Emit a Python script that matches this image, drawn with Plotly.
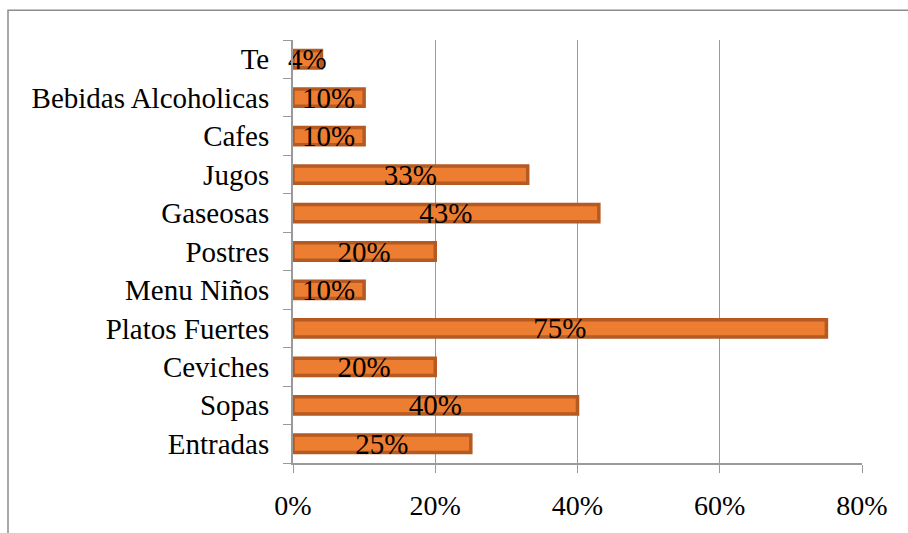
import plotly.graph_objects as go

categories = ["Entradas", "Sopas", "Ceviches", "Platos Fuertes", "Menu Niños",
              "Postres", "Gaseosas", "Jugos", "Cafes", "Bebidas Alcoholicas", "Te"]
values = [25, 40, 20, 75, 10, 20, 43, 33, 10, 10, 4]
x_ticks = [0, 20, 40, 60, 80]
x_tick_labels = ["0%", "20%", "40%", "60%", "80%"]

FONT = "Times New Roman, serif"
W, H = 908, 533
L, R, T, B = 293, 46, 40, 67
pw, ph = W - L - R, H - T - B

fig = go.Figure(go.Bar(
    y=categories,
    x=values,
    orientation="h",
    marker=dict(color="#ED7D31", line=dict(color="#B45A22", width=3.5)),
    text=[f"{v}%" for v in values],
    textposition="inside",
    insidetextanchor="middle",
    constraintext="none",
    textfont=dict(family=FONT, size=29, color="black"),
    cliponaxis=False,
    width=0.45,
))

# outer chart frame
def px_to_paper_x(px):
    return (px - L) / pw

def px_to_paper_y(py):
    return (H - B - py) / ph

fig.add_shape(type="rect", xref="paper", yref="paper",
              x0=px_to_paper_x(8), x1=px_to_paper_x(920),
              y0=px_to_paper_y(545), y1=px_to_paper_y(10),
              line=dict(color="#8c8c8c", width=1.5), fillcolor="rgba(0,0,0,0)",
              layer="below")

fig.update_layout(
    width=W, height=H,
    margin=dict(l=L, r=R, t=T, b=B),
    plot_bgcolor="white", paper_bgcolor="white",
    showlegend=False,
    font=dict(family=FONT, size=29, color="black"),
    xaxis=dict(
        range=[0, 80], tickvals=x_ticks, ticktext=x_tick_labels,
        showgrid=True, gridcolor="#9a9a9a", gridwidth=1.2,
        showline=True, linecolor="#9a9a9a", linewidth=2,
        ticks="outside", ticklen=8, tickcolor="#9a9a9a",
        zeroline=False, tickfont=dict(family=FONT, size=28),
        ticklabelstandoff=8,
    ),
    yaxis=dict(
        type="category", categoryorder="array", categoryarray=categories,
        showline=True, linecolor="#9a9a9a", linewidth=2,
        ticks="outside", ticklen=8, tickcolor="#9a9a9a", tickson="boundaries",
        showgrid=False, tickfont=dict(family=FONT, size=29),
        ticklabelstandoff=16,
    ),
    bargap=0.55,
)

fig.write_html("out.html")
